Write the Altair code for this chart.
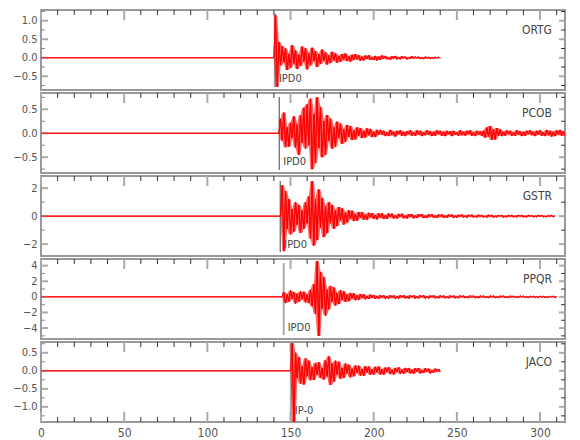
import altair as alt
import pandas as pd

# ---------------- data ----------------
STATIONS = ["ORTG", "PCOB", "GSTR", "PPQR", "JACO"]
PICK_TIMES = [140.6, 143.2, 143.8, 145.9, 150.2]
PICK_LABELS = ["IPD0", "IPD0", "IPD0", "IPD0", "IP-0"]
TRACE_STARTS = [140, 143, 144, 145, 150]   # first sample of the event part (1 s step)

X_DOMAIN = [0, 315]
X_MAJOR = [0, 50, 100, 150, 200, 250, 300]
X_MINOR = [10, 20, 30, 40, 60, 70, 80, 90, 110, 120, 130, 140, 160, 170, 180, 190,
           210, 220, 230, 240, 260, 270, 280, 290, 310]

Y_DOMAINS = [[-0.87, 1.29], [-0.83, 0.84], [-2.85, 2.87], [-5.4, 4.85], [-1.42, 0.8]]
Y_MAJOR = [[-0.5, 0.0, 0.5, 1.0], [-0.5, 0.0, 0.5], [-2, 0, 2], [-4, -2, 0, 2, 4],
           [-1.0, -0.5, 0.0, 0.5]]
Y_MINOR = [[-0.75, -0.25, 0.25, 0.75, 1.25], [-0.75, -0.25, 0.25, 0.75], [-1, 1],
           [-5, -3, -1, 1, 3], [-1.25, -0.75, -0.25, 0.25, 0.75]]
Y_FORMAT = [".1f", ".1f", "d", "d", ".1f"]

ORTG = [0,
        1.15, -0.78, 0.42, -0.2, 0.31, -0.12, 0.25, -0.33, 0.1, -0.27,
        0.34, -0.15, 0.2, -0.3, 0.08, -0.22, 0.3, -0.1, 0.26, -0.31,
        0.12, -0.2, 0.27, -0.09, 0.18, -0.25, 0.1, -0.17, 0.22, -0.08,
        0.15, -0.18, 0.06, -0.14, 0.16, -0.07, 0.12, -0.13, 0.05, -0.11,
        0.1, -0.05, 0.12, -0.09, 0.04, -0.1, 0.08, -0.06, 0.1, -0.04,
        0.07, -0.08, 0.03, -0.07, 0.06, -0.03, 0.07, -0.06, 0.02, -0.06,
        0.05, -0.07, 0.03, -0.05, 0.06, -0.02, 0.05, -0.04, 0.02, -0.05,
        0.04, -0.02, 0.05, -0.04, 0.02, -0.04, 0.04, -0.01, 0.03, -0.04,
        0.02, -0.03, 0.04, -0.02, 0.03, -0.01, 0.03, -0.03, 0.01, -0.03,
        0.03, -0.01, 0.02, -0.03, 0.01, -0.02, 0.02, -0.01, 0.02, -0.01]

PCOB = [0,
        0.3, -0.15, 0.43, -0.29, 0.12, -0.28, 0.22, -0.1, 0.35, -0.3,
        0.18, -0.45, 0.38, -0.2, 0.53, -0.32, 0.6, -0.25, 0.72, -0.75,
        0.4, -0.62, 0.75, -0.3, 0.55, -0.5, 0.25, -0.45, 0.38, -0.15,
        0.3, -0.32, 0.12, -0.28, 0.24, -0.1, 0.2, -0.22, 0.08, -0.18,
        0.17, -0.07, 0.15, -0.14, 0.06, -0.13, 0.12, -0.05, 0.11, -0.1,
        0.05, -0.09, 0.1, -0.04, 0.09, -0.08, 0.03, -0.08, 0.07, -0.03,
        0.07, -0.03, 0.05, -0.06, 0.02, -0.06, 0.07, -0.04, 0.03, -0.07,
        0.05, -0.02, 0.06, -0.05, 0.03, -0.06, 0.04, -0.02, 0.06, -0.05,
        0.02, -0.05, 0.06, -0.03, 0.05, -0.06, 0.02, -0.04, 0.06, -0.03,
        0.04, -0.06, 0.03, -0.05, 0.06, -0.02, 0.05, -0.05, 0.03, -0.06,
        0.05, -0.02, 0.04, -0.06, 0.05, -0.03, 0.02, -0.05, 0.06, -0.04,
        0.03, -0.05, 0.05, -0.02, 0.06, -0.05, 0.02, -0.06, 0.05, -0.03,
        0.04, -0.05,
        0.05, -0.09, 0.12, -0.07, 0.15, -0.14, 0.08, -0.13, 0.11, -0.05, 0.08, -0.06,
        0.03, -0.05, 0.06, -0.02, 0.05, -0.05, 0.02, -0.05, 0.06, -0.03,
        0.04, -0.06, 0.03, -0.05, 0.05, -0.02, 0.06, -0.04, 0.03, -0.06,
        0.05, -0.03, 0.06, -0.05, 0.02, -0.06, 0.07, -0.04, 0.05, -0.07,
        0.03, -0.06, 0.06, -0.03, 0.07, -0.05, 0.04, -0.06]

GSTR = [0,
        2.2, -2.5, 1.8, -0.9, 1.2, -1.3, 0.5, -1.1, 1.0, -0.6,
        0.8, -1.2, 0.4, -0.9, 1.0, -0.5, 1.4, -1.6, 2.5, -2.1,
        1.2, -1.7, 1.9, -0.8, 1.3, -1.5, 0.7, -1.2, 1.0, -0.5,
        0.8, -0.9, 0.4, -0.7, 0.65, -0.3, 0.55, -0.6, 0.25, -0.45,
        0.42, -0.2, 0.38, -0.35, 0.15, -0.32, 0.3, -0.12, 0.28, -0.25,
        0.1, -0.26, 0.24, -0.08, 0.22, -0.2, 0.07, -0.23, 0.2, -0.1,
        0.19, -0.2, 0.06, -0.18, 0.19, -0.07, 0.17, -0.16, 0.05, -0.17,
        0.16, -0.06, 0.17, -0.15, 0.05, -0.16, 0.15, -0.06, 0.14, -0.15,
        0.05, -0.14, 0.15, -0.05, 0.13, -0.14, 0.04, -0.13, 0.14, -0.06,
        0.13, -0.12, 0.04, -0.13, 0.12, -0.05, 0.12, -0.12, 0.04, -0.11,
        0.12, -0.04, 0.11, -0.12, 0.04, -0.11, 0.1, -0.04, 0.11, -0.1,
        0.04, -0.1, 0.1, -0.03, 0.1, -0.1, 0.03, -0.09, 0.1, -0.04,
        0.09, -0.1, 0.03, -0.09, 0.1, -0.04, 0.09, -0.09, 0.03, -0.08,
        0.09, -0.03, 0.08, -0.09, 0.03, -0.08, 0.08, -0.03, 0.08, -0.08,
        0.03, -0.08, 0.09, -0.03, 0.08, -0.08, 0.02, -0.08, 0.08, -0.03,
        0.07, -0.08, 0.03, -0.07, 0.08, -0.02, 0.07, -0.07, 0.02, -0.07,
        0.07, -0.02, 0.07, -0.06, 0.03]

PPQR = [0,
        0.6, -0.8, 0.3, -0.6, 0.8, -0.25, 0.6, -0.85, 0.4, -0.6,
        0.7, -0.3, 0.65, -0.7, 0.3, -0.8, 0.9, -1.2, 1.6, -2.2,
        4.6, -5.0, 3.2, -1.5, 2.5, -2.4, 0.9, -1.6, 1.4, -0.6,
        1.2, -1.1, 0.5, -0.9, 0.85, -0.4, 0.7, -0.65, 0.3, -0.55,
        0.5, -0.2, 0.45, -0.42, 0.18, -0.38, 0.36, -0.15, 0.32, -0.3,
        0.12, -0.28, 0.28, -0.1, 0.25, -0.25, 0.1, -0.23, 0.22, -0.09,
        0.21,
        -0.22, 0.08, -0.2, 0.22, -0.07, 0.2, -0.22, 0.08, -0.21, 0.2,
        -0.07, 0.21, -0.19, 0.07, -0.21, 0.19, -0.06, 0.19, -0.2, 0.07,
        -0.19, 0.2, -0.06, 0.19, -0.19, 0.07, -0.19, 0.18, -0.06, 0.19,
        -0.18, 0.06, -0.18, 0.18, -0.06, 0.18, -0.17, 0.06, -0.18, 0.16,
        -0.06, 0.16, -0.17, 0.05, -0.16, 0.17, -0.05, 0.15, -0.16, 0.06,
        -0.15, 0.16, -0.05, 0.15, -0.16, 0.05, -0.15, 0.14, -0.05, 0.15,
        -0.14, 0.05, -0.14, 0.14, -0.05, 0.14, -0.14, 0.04, -0.14, 0.14,
        -0.04, 0.14, -0.13, 0.04, -0.14, 0.13, -0.04, 0.12, -0.13, 0.04,
        -0.12, 0.13, -0.04, 0.12, -0.13, 0.04, -0.12, 0.11, -0.04, 0.12,
        -0.11, 0.04, -0.11, 0.11, -0.04, 0.11, -0.11, 0.03, -0.11, 0.11,
        -0.03, 0.11, -0.1, 0.03]

JACO = [0,
        0.77, -1.6, 0.5, -0.2, 0.38, -0.35, 0.12, -0.38, 0.35, -0.15,
        0.28, -0.26, 0.1, -0.25, 0.22, -0.1, 0.24, -0.2, 0.08, -0.24,
        0.3, -0.15, 0.4, -0.39, 0.2, -0.3, 0.28, -0.1, 0.25, -0.22,
        0.08, -0.2, 0.2, -0.07, 0.17, -0.18, 0.06, -0.15, 0.15, -0.05,
        0.14, -0.13, 0.05, -0.14, 0.13, -0.04, 0.12, -0.11, 0.04, -0.1,
        0.11, -0.04, 0.12, -0.1, 0.04, -0.11, 0.09, -0.03, 0.1, -0.09,
        0.03, -0.1, 0.08, -0.03, 0.1, -0.08, 0.03, -0.08, 0.08, -0.03,
        0.08, -0.07, 0.03, -0.08, 0.07, -0.02, 0.08, -0.07, 0.02, -0.06,
        0.07, -0.02, 0.06, -0.07, 0.02, -0.05, 0.06, -0.02, 0.05, -0.03]

TRACES = [ORTG, PCOB, GSTR, PPQR, JACO]

# ---------------- styling ----------------
W, H = 524, 80
FONT = "Liberation Sans Narrow, Arial Narrow, DejaVu Sans Condensed, sans-serif"
LABEL_COLOR = "#555555"
PICK_STYLE = [
    dict(color="#999999", width=2, y0=3, y1=77),
    dict(color="#444444", width=1, y0=4, y1=77),
    dict(color="#444444", width=1, y0=5, y1=76),
    dict(color="#aaaaaa", width=2, y0=4, y1=76),
    dict(color="#aaaaaa", width=2, y0=1, y1=80),
]

xscale = alt.Scale(domain=X_DOMAIN, nice=False, zero=False)


def panel(i, last):
    yscale = alt.Scale(domain=Y_DOMAINS[i], nice=False, zero=False)
    start = TRACE_STARTS[i]
    vals = TRACES[i]
    event = pd.DataFrame({"t": [start + k for k in range(len(vals))], "v": vals})
    df = pd.DataFrame({"t": [0] + list(event["t"]), "v": [0] + vals})

    if last:
        xaxis = alt.Axis(values=X_MAJOR, ticks=False, tickSize=0, domain=False, grid=False,
                         labelFont=FONT, labelFontSize=12, labelColor=LABEL_COLOR,
                         labelPadding=5, labelFlush=False, labelOverlap=False, title=None)
    else:
        xaxis = None
    yaxis = alt.Axis(values=Y_MAJOR[i], format=Y_FORMAT[i], ticks=False, tickSize=0,
                     domain=False, grid=False, labelFont=FONT, labelFontSize=11,
                     labelColor=LABEL_COLOR, labelPadding=4, labelOverlap=False,
                     labelFlush=False, minExtent=32, maxExtent=32, title=None)

    X = lambda: alt.X("t:Q", scale=xscale, axis=xaxis)
    Y = lambda: alt.Y("v:Q", scale=yscale, axis=yaxis)

    band = alt.Chart(event).transform_window(
        hi="max(v)", lo="min(v)", frame=[-1, 1], sort=[alt.SortField("t")]
    ).mark_area(color="#ff0000", opacity=0.6, clip=True).encode(
        x=X(), y=alt.Y("hi:Q", scale=yscale, axis=yaxis), y2="lo:Q",
    )
    trace = alt.Chart(df).mark_line(color="#ff0000", strokeWidth=1, clip=True).encode(
        x=X(), y=Y(), order="t:Q",
    )

    ps = PICK_STYLE[i]
    pick_df = pd.DataFrame({"t": [PICK_TIMES[i]], "label": [PICK_LABELS[i]]})
    pick = alt.Chart(pick_df).mark_rule(color=ps["color"], strokeWidth=ps["width"]).encode(
        x=X(), y=alt.value(ps["y0"]), y2=alt.value(ps["y1"]),
    )
    pick_txt = alt.Chart(pick_df).mark_text(
        align="left", baseline="alphabetic", dx=4, font=FONT, fontSize=11, color="#444444"
    ).encode(x=X(), y=alt.value(72), text="label:N")

    name = alt.Chart(pd.DataFrame({"name": [STATIONS[i]]})).mark_text(
        align="right", baseline="alphabetic", font=FONT, fontSize=12, color="#444444"
    ).encode(x=alt.value(W - 13), y=alt.value(24), text="name:N")

    xmaj = pd.DataFrame({"t": X_MAJOR})
    xmin = pd.DataFrame({"t": X_MINOR})
    ymaj = pd.DataFrame({"v": Y_MAJOR[i]})
    ymin = pd.DataFrame({"v": Y_MINOR[i]})

    def xt(d, y0, y1, color, width):
        return alt.Chart(d).mark_rule(color=color, strokeWidth=width).encode(
            x=X(), y=alt.value(y0), y2=alt.value(y1))

    def yt(d, x0, x1, color, width):
        return alt.Chart(d).mark_rule(color=color, strokeWidth=width).encode(
            y=Y(), x=alt.value(x0), x2=alt.value(x1))

    layers = [trace,
              xt(xmin, 0, 5, "#333333", 1),
              xt(xmaj, 0, 10, "#aaaaaa", 2),
              yt(ymin, 0, 4, "#888888", 1),
              yt(ymaj, 0, 7, "#aaaaaa", 2),
              yt(ymin, W, W - 4, "#333333", 1),
              yt(ymaj, W, W - 6, "#aaaaaa", 2)]
    if last:
        layers += [xt(xmin, H, H - 5, "#333333", 1), xt(xmaj, H, H - 10, "#aaaaaa", 2)]
    layers += [pick, band, trace, pick_txt, name]
    return alt.layer(*layers).properties(width=W, height=H)


panels = [panel(i, i == len(STATIONS) - 1) for i in range(len(STATIONS))]

chart = alt.vconcat(*panels, spacing=0).properties(
    padding={"left": 0, "top": 0, "right": 4, "bottom": 4}
).configure_view(stroke="#999999", strokeWidth=2).configure_concat(spacing=0)

chart.save("out.html", embed_options={"renderer": "svg", "actions": False})
